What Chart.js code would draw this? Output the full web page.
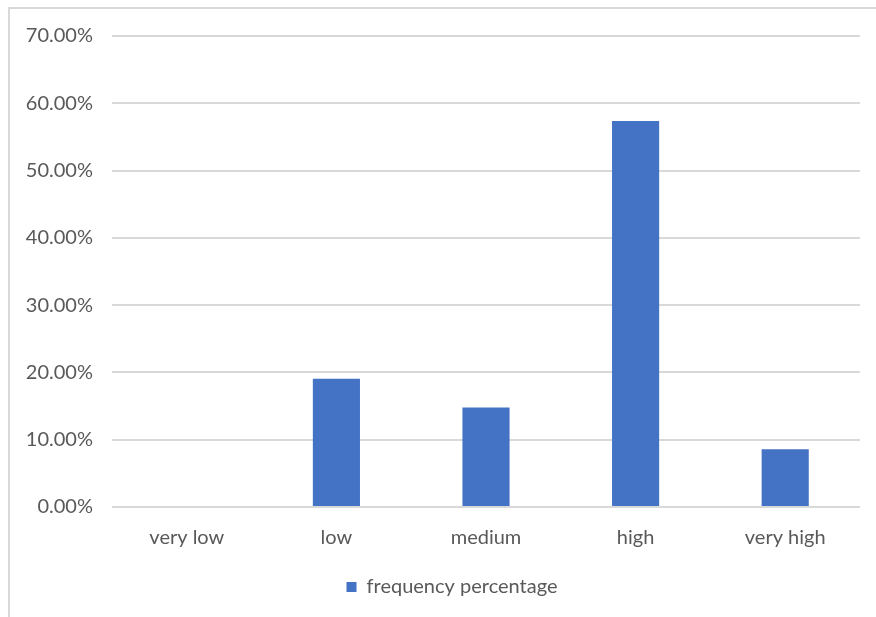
<!DOCTYPE html>
<html>
<head>
<meta charset="utf-8">
<script src="https://cdn.jsdelivr.net/npm/chart.js@4.4.1/dist/chart.umd.min.js"></script>
<style>
  html, body { margin: 0; padding: 0; background: #ffffff; }
  #wrap { position: relative; width: 876px; height: 617px; overflow: hidden; }
  #frame {
    position: absolute; left: 8px; top: 7px; width: 900px; height: 700px;
    border-left: 2px solid #d9d9d9; border-top: 2px solid #d9d9d9;
    box-sizing: border-box; pointer-events: none;
  }
  canvas { position: absolute; left: 0; top: 0; }
</style>
</head>
<body>
<div id="wrap">
  <canvas id="chart" width="876" height="617"></canvas>
  <div id="frame"></div>
</div>
<script>
// Rating levels and share of responses (percent)
const categories = ['very low', 'low', 'medium', 'high', 'very high'];
const frequencyPercentage = [0, 19.06, 14.8, 57.35, 8.6];
const yTicks = [0, 10, 20, 30, 40, 50, 60, 70];

const FONT = 'Lato, "Noto Sans", sans-serif';
const TEXT = '#595959';

// Nudge the legend so it sits centred under the plot area rather than the canvas
const legendShift = {
  id: 'legendShift',
  afterLayout(chart) {
    const lg = chart.legend;
    if (lg) { lg.left += 18; lg.right += 18; }
  }
};

new Chart(document.getElementById('chart'), {
  type: 'bar',
  data: {
    labels: categories,
    datasets: [{
      label: 'frequency percentage',
      data: frequencyPercentage,
      backgroundColor: '#4472C4',
      borderWidth: 0,
      categoryPercentage: 1,
      barPercentage: 0.315
    }]
  },
  options: {
    responsive: false,
    animation: false,
    devicePixelRatio: 1,
    layout: { padding: { left: 8, right: 16, top: 36, bottom: 10 } },
    scales: {
      x: {
        grid: { display: false, drawTicks: false },
        border: { display: false },
        ticks: { color: TEXT, font: { family: FONT, size: 20 }, padding: 19 },
        afterFit: (axis) => { axis.height = 60; }
      },
      y: {
        min: 0,
        max: 70,
        afterBuildTicks: (axis) => { axis.ticks = yTicks.map(v => ({ value: v })); },
        grid: { color: '#d9d9d9', lineWidth: 2, drawTicks: false },
        border: { display: false },
        ticks: {
          color: TEXT,
          font: { family: FONT, size: 20 },
          padding: 19,
          callback: (v) => Number(v).toFixed(2) + '%'
        },
        afterFit: (axis) => { axis.width = 104; }
      }
    },
    plugins: {
      legend: {
        position: 'bottom',
        labels: {
          color: TEXT,
          font: { family: FONT, size: 20 },
          boxWidth: 10,
          boxHeight: 10,
          padding: 10
        }
      },
      tooltip: { enabled: false }
    }
  },
  plugins: [legendShift]
});
</script>
</body>
</html>
